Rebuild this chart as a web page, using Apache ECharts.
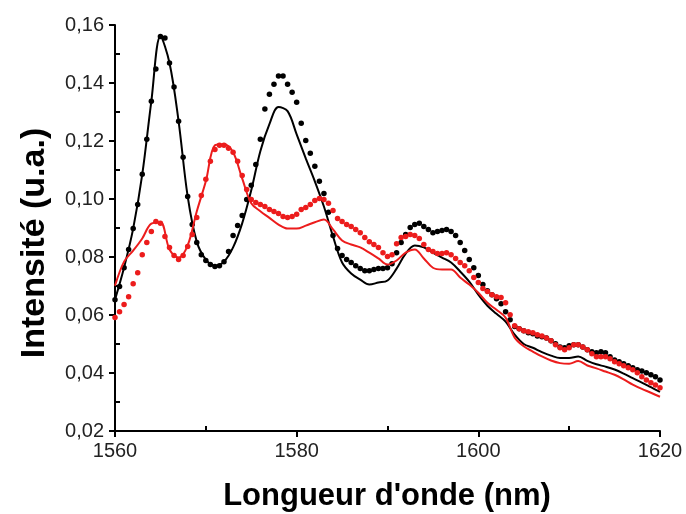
<!DOCTYPE html>
<html>
<head>
<meta charset="utf-8">
<script src="https://cdn.jsdelivr.net/npm/echarts@6/dist/echarts.min.js"></script>
<style>
  html, body { margin: 0; padding: 0; background: #fff; }
  #chart { width: 686px; height: 514px; }
</style>
</head>
<body>
<div id="chart"></div>
<script>
// Wavelength grids (nm)
const wavelength1nm = [
  1560,1561,1562,1563,1564,1565,1566,1567,1568,1569,
  1570,1571,1572,1573,1574,1575,1576,1577,1578,1579,
  1580,1581,1582,1583,1584,1585,1586,1587,1588,1589,
  1590,1591,1592,1593,1594,1595,1596,1597,1598,1599,
  1600,1601,1602,1603,1604,1605,1606,1607,1608,1609,
  1610,1611,1612,1613,1614,1615,1616,1617,1618,1619,
  1620
];
const wavelengthHalf = [
  1560,1560.5,1561,1561.5,1562,1562.5,1563,1563.5,1564,1564.5,
  1565,1565.5,1566,1566.5,1567,1567.5,1568,1568.5,1569,1569.5,
  1570,1570.5,1571,1571.5,1572,1572.5,1573,1573.5,1574,1574.5,
  1575,1575.5,1576,1576.5,1577,1577.5,1578,1578.5,1579,1579.5,
  1580,1580.5,1581,1581.5,1582,1582.5,1583,1583.5,1584,1584.5,
  1585,1585.5,1586,1586.5,1587,1587.5,1588,1588.5,1589,1589.5,
  1590,1590.5,1591,1591.5,1592,1592.5,1593,1593.5,1594,1594.5,
  1595,1595.5,1596,1596.5,1597,1597.5,1598,1598.5,1599,1599.5,
  1600,1600.5,1601,1601.5,1602,1602.5,1603,1603.5,1604,1604.5,
  1605,1605.5,1606,1606.5,1607,1607.5,1608,1608.5,1609,1609.5,
  1610,1610.5,1611,1611.5,1612,1612.5,1613,1613.5,1614,1614.5,
  1615,1615.5,1616,1616.5,1617,1617.5,1618,1618.5,1619,1619.5,
  1620
];

// Black solid spectrum (1 nm step)
const blackLine = [
  0.0653,0.0764,0.0898,0.1085,0.1337,0.1560,0.1469,0.1268,0.1009,0.0853,
  0.0791,0.0770,0.0784,0.0833,0.0916,0.1030,0.1165,0.1258,0.1317,0.1303,
  0.1223,0.1140,0.1061,0.0974,0.0871,0.0781,0.0743,0.0722,0.0705,0.0712,
  0.0719,0.0760,0.0812,0.0840,0.0833,0.0815,0.0798,0.0781,0.0750,0.0715,
  0.0670,0.0632,0.0604,0.0577,0.0532,0.0500,0.0487,0.0472,0.0460,0.0452,
  0.0452,0.0457,0.0442,0.0430,0.0422,0.0412,0.0398,0.0382,0.0367,0.0351,
  0.0335
];

// Red solid spectrum (1 nm step)
const redLine = [
  0.0701,0.0784,0.0822,0.0864,0.0915,0.0920,0.0826,0.0798,0.0840,0.0957,
  0.1061,0.1185,0.1189,0.1161,0.1071,0.0985,0.0958,0.0935,0.0912,0.0898,
  0.0898,0.0908,0.0920,0.0929,0.0895,0.0857,0.0843,0.0833,0.0815,0.0795,
  0.0774,0.0788,0.0815,0.0826,0.0795,0.0763,0.0757,0.0757,0.0729,0.0705,
  0.0677,0.0642,0.0618,0.0591,0.0522,0.0492,0.0474,0.0457,0.0443,0.0434,
  0.0432,0.0441,0.0426,0.0416,0.0405,0.0394,0.0378,0.0360,0.0345,0.0332,
  0.0318
];

// Black dotted spectrum (0.5 nm step)
const blackDots = [
  0.0653,0.0698,0.0763,0.0826,0.0898,0.0981,0.1085,0.1206,0.1337,0.1448,
  0.1560,0.1555,0.1469,0.1386,0.1268,0.1144,0.1009,0.0912,0.0850,0.0808,
  0.0788,0.0774,0.0767,0.0770,0.0784,0.0819,0.0874,0.0909,0.0943,0.0998,
  0.1047,0.1119,0.1206,0.1310,0.1361,0.1396,0.1424,0.1424,0.1396,0.1368,
  0.1334,0.1261,0.1202,0.1158,0.1113,0.1061,0.1019,0.0954,0.0874,0.0829,
  0.0805,0.0791,0.0781,0.0770,0.0760,0.0753,0.0753,0.0757,0.0760,0.0760,
  0.0763,0.0777,0.0815,0.0850,0.0878,0.0902,0.0912,0.0916,0.0905,0.0895,
  0.0884,0.0888,0.0891,0.0895,0.0888,0.0874,0.0850,0.0822,0.0791,0.0763,
  0.0736,0.0705,0.0684,0.0670,0.0656,0.0639,0.0611,0.0584,0.0560,0.0553,
  0.0546,0.0539,0.0535,0.0528,0.0525,0.0521,0.0511,0.0501,0.0490,0.0487,
  0.0494,0.0497,0.0497,0.0490,0.0480,0.0473,0.0470,0.0473,0.0470,0.0456,
  0.0445,0.0439,0.0432,0.0425,0.0418,0.0411,0.0407,0.0401,0.0394,0.0387,
  0.0376
];

// Red dotted spectrum (0.5 nm step)
const redDots = [
  0.0591,0.0611,0.0636,0.0663,0.0708,0.0746,0.0808,0.0850,0.0888,0.0922,
  0.0916,0.0871,0.0833,0.0805,0.0791,0.0805,0.0836,0.0878,0.0936,0.1012,
  0.1068,0.1130,0.1171,0.1185,0.1185,0.1175,0.1161,0.1130,0.1081,0.1033,
  0.0998,0.0988,0.0981,0.0974,0.0964,0.0957,0.0950,0.0940,0.0936,0.0940,
  0.0947,0.0964,0.0971,0.0981,0.0995,0.1002,0.0998,0.0985,0.0960,0.0933,
  0.0922,0.0912,0.0905,0.0895,0.0884,0.0867,0.0853,0.0843,0.0833,0.0815,
  0.0802,0.0808,0.0846,0.0867,0.0871,0.0878,0.0874,0.0864,0.0843,0.0826,
  0.0819,0.0812,0.0812,0.0815,0.0808,0.0795,0.0781,0.0770,0.0753,0.0729,
  0.0712,0.0691,0.0681,0.0670,0.0663,0.0660,0.0642,0.0601,0.0563,0.0553,
  0.0546,0.0542,0.0539,0.0532,0.0528,0.0521,0.0511,0.0497,0.0487,0.0480,
  0.0487,0.0497,0.0497,0.0490,0.0480,0.0466,0.0456,0.0456,0.0456,0.0449,
  0.0439,0.0432,0.0425,0.0418,0.0411,0.0401,0.0387,0.0376,0.0366,0.0359,
  0.0349
];

// Axis ticks and their labels
const xTicks = [1560, 1580, 1600, 1620];
const xTickLabels = ['1560', '1580', '1600', '1620'];
const yTicks = [0.02, 0.04, 0.06, 0.08, 0.10, 0.12, 0.14, 0.16];
const yTickLabels = ['0,02', '0,04', '0,06', '0,08', '0,10', '0,12', '0,14', '0,16'];

// Axis titles
const xTitle = "Longueur d'onde (nm)";
const yTitle = 'Intensité (u.a.)';

const pairs = (xs, ys) => xs.map((x, i) => [x, ys[i]]);
const lookup = (ticks, labels, v) => {
  const i = ticks.findIndex(t => Math.abs(t - v) < 1e-6);
  return i >= 0 ? labels[i] : '';
};

const FONT = '"Liberation Sans", Arial, sans-serif';
const RED = '#ec1c1c';

const chart = echarts.init(document.getElementById('chart'), null, { renderer: 'canvas' });
chart.setOption({
  animation: false,
  backgroundColor: '#ffffff',
  grid: { left: 115, right: 26, top: 25, bottom: 83, containLabel: false },
  // Axis titles drawn as free text so they can be placed exactly
  graphic: [
    {
      type: 'text', x: 387, y: 496, silent: true,
      style: { text: xTitle, font: 'bold 31px ' + FONT, fill: '#000', align: 'center', verticalAlign: 'middle' }
    },
    {
      type: 'text', x: 35, y: 243, rotation: Math.PI / 2, silent: true,
      style: { text: yTitle, font: 'bold 34px ' + FONT, fill: '#000', align: 'center', verticalAlign: 'middle' }
    }
  ],
  xAxis: {
    type: 'value',
    min: 1560, max: 1620, interval: 20,
    axisLine: { onZero: false, lineStyle: { color: '#000', width: 2 } },
    axisTick: { show: true, length: 6, lineStyle: { color: '#000', width: 2 } },
    // negative length turns the minor ticks towards the plot
    minorTick: { show: true, splitNumber: 2, length: -5, lineStyle: { color: '#000', width: 2 } },
    splitLine: { show: false },
    axisLabel: {
      fontFamily: FONT, fontSize: 20, color: '#222', margin: 10,
      formatter: v => lookup(xTicks, xTickLabels, v)
    }
  },
  yAxis: {
    type: 'value',
    min: 0.02, max: 0.16, interval: 0.02,
    axisLine: { show: true, onZero: false, lineStyle: { color: '#000', width: 2 } },
    axisTick: { show: true, length: 6, lineStyle: { color: '#000', width: 2 } },
    minorTick: { show: true, splitNumber: 2, length: -5, lineStyle: { color: '#000', width: 2 } },
    splitLine: { show: false },
    axisLabel: {
      fontFamily: FONT, fontSize: 20, color: '#222', margin: 11,
      formatter: v => lookup(yTicks, yTickLabels, v)
    }
  },
  series: [
    {
      name: 'noir trait', type: 'line', smooth: 0.35, showSymbol: false,
      data: pairs(wavelength1nm, blackLine),
      lineStyle: { color: '#000', width: 2 }, z: 2
    },
    {
      name: 'noir points', type: 'scatter', symbol: 'circle', symbolSize: 5.5,
      data: pairs(wavelengthHalf, blackDots),
      itemStyle: { color: '#000', opacity: 1 }, z: 3
    },
    {
      name: 'rouge trait', type: 'line', smooth: 0.35, showSymbol: false,
      data: pairs(wavelength1nm, redLine),
      lineStyle: { color: RED, width: 2 }, z: 4
    },
    {
      name: 'rouge points', type: 'scatter', symbol: 'circle', symbolSize: 5.5,
      data: pairs(wavelengthHalf, redDots),
      itemStyle: { color: RED, opacity: 1 }, z: 5
    }
  ]
});
</script>
</body>
</html>
